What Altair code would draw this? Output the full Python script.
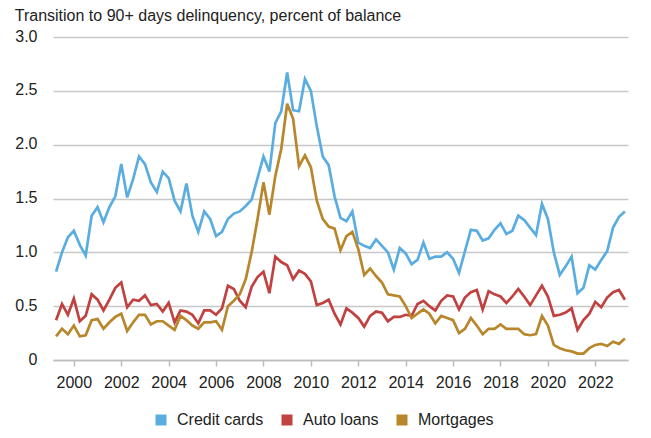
import altair as alt
import pandas as pd

start_year = 1999.25
series_names = ["Credit cards", "Auto loans", "Mortgages"]
series_colors = ["#5AADE0", "#C0413F", "#B8862B"]

credit_cards = [0.82, 1.00, 1.14, 1.20, 1.07, 0.97, 1.34, 1.42, 1.28, 1.42, 1.52, 1.82, 1.51, 1.68, 1.89, 1.82,
                1.65, 1.56, 1.75, 1.69, 1.48, 1.38, 1.64, 1.34, 1.19, 1.38, 1.31, 1.15, 1.19, 1.31, 1.36, 1.38,
                1.43, 1.49, 1.69, 1.89, 1.75, 2.20, 2.31, 2.67, 2.32, 2.31, 2.61, 2.50, 2.17, 1.89, 1.81, 1.52,
                1.32, 1.29, 1.38, 1.09, 1.06, 1.04, 1.12, 1.06, 1.00, 0.84, 1.04, 0.99, 0.89, 0.93, 1.09, 0.94,
                0.96, 0.96, 1.00, 0.94, 0.81, 1.01, 1.21, 1.20, 1.11, 1.13, 1.21, 1.27, 1.17, 1.20, 1.34, 1.30,
                1.23, 1.16, 1.45, 1.31, 1.00, 0.79, 0.87, 0.96, 0.62, 0.67, 0.88, 0.84, 0.93, 1.01, 1.23, 1.33, 1.38]

auto_loans = [0.37, 0.52, 0.42, 0.57, 0.36, 0.41, 0.61, 0.56, 0.46, 0.56, 0.67, 0.72, 0.49, 0.56, 0.55, 0.60,
              0.51, 0.52, 0.45, 0.53, 0.35, 0.46, 0.45, 0.42, 0.34, 0.46, 0.46, 0.42, 0.48, 0.69, 0.66, 0.55,
              0.49, 0.68, 0.77, 0.82, 0.62, 0.96, 0.91, 0.88, 0.75, 0.83, 0.80, 0.73, 0.51, 0.53, 0.56, 0.43,
              0.33, 0.48, 0.44, 0.39, 0.31, 0.41, 0.45, 0.44, 0.36, 0.40, 0.40, 0.42, 0.41, 0.52, 0.55, 0.50,
              0.46, 0.55, 0.60, 0.59, 0.47, 0.58, 0.63, 0.65, 0.47, 0.64, 0.61, 0.59, 0.53, 0.59, 0.66, 0.59,
              0.51, 0.60, 0.69, 0.59, 0.41, 0.42, 0.44, 0.48, 0.28, 0.37, 0.43, 0.54, 0.49, 0.58, 0.63, 0.65, 0.56]

mortgages = [0.22, 0.29, 0.24, 0.32, 0.22, 0.23, 0.37, 0.38, 0.29, 0.35, 0.40, 0.43, 0.27, 0.35, 0.42, 0.42,
             0.33, 0.36, 0.36, 0.32, 0.28, 0.41, 0.37, 0.32, 0.29, 0.35, 0.35, 0.36, 0.28, 0.50, 0.55, 0.61,
             0.75, 1.00, 1.31, 1.65, 1.35, 1.71, 1.96, 2.38, 2.24, 1.80, 1.90, 1.79, 1.48, 1.31, 1.24, 1.22,
             1.02, 1.15, 1.19, 1.03, 0.79, 0.85, 0.78, 0.72, 0.61, 0.60, 0.59, 0.50, 0.39, 0.43, 0.47, 0.43,
             0.34, 0.41, 0.39, 0.37, 0.25, 0.29, 0.39, 0.32, 0.24, 0.29, 0.29, 0.33, 0.29, 0.29, 0.29, 0.24,
             0.23, 0.24, 0.41, 0.32, 0.14, 0.11, 0.09, 0.08, 0.06, 0.06, 0.11, 0.14, 0.15, 0.13, 0.17, 0.15, 0.20]

x_ticks = list(range(2000, 2023, 2))
y_ticks = [0, 0.5, 1.0, 1.5, 2.0, 2.5, 3.0]

rows = []
for name, vals in zip(series_names, [credit_cards, auto_loans, mortgages]):
    for i, v in enumerate(vals):
        rows.append({"t": start_year + 0.25 * i, "value": v, "series": name})
df = pd.DataFrame(rows)

FONT = "Liberation Sans"
FS = 16

chart = alt.Chart(df).mark_line(strokeWidth=2.7).encode(
    x=alt.X("t:Q",
            scale=alt.Scale(domain=[1999.12, 2023.38], nice=False, zero=False),
            axis=alt.Axis(values=x_ticks, format="d", title=None, grid=False,
                          domain=True, domainColor="#bdbdbd", domainWidth=1.5,
                          ticks=True, tickColor="#bdbdbd", tickWidth=1.5, tickSize=6,
                          labelPadding=8, labelFontSize=FS, labelFont=FONT,
                          labelColor="#222222")),
    y=alt.Y("value:Q",
            scale=alt.Scale(domain=[0, 3], nice=False),
            axis=alt.Axis(values=y_ticks, title=None, grid=True, gridColor="#c8c8c8",
                          gridWidth=1.5, domain=False, ticks=False, tickSize=0,
                          labelPadding=16, labelFontSize=FS, labelFont=FONT,
                          labelColor="#222222", labelOffset=-1,
                          labelExpr="datum.value == 0 ? '0' : format(datum.value, '.1f')")),
    color=alt.Color("series:N",
                    scale=alt.Scale(domain=series_names, range=series_colors),
                    legend=alt.Legend(title=None, orient="none", direction="horizontal",
                                      legendX=100, legendY=375,
                                      symbolType="square", symbolSize=4,
                                      symbolStrokeWidth=9, labelFontSize=FS,
                                      labelFont=FONT, labelColor="#222222",
                                      labelOffset=8, columnPadding=4)),
).properties(
    width=575,
    height=323,
    title=alt.TitleParams("Transition to 90+ days delinquency, percent of balance",
                          anchor="start", frame="bounds", fontSize=FS, font=FONT,
                          fontWeight="normal", color="#222222", offset=4),
    autosize=alt.AutoSizeParams(type="none"),
    padding={"left": 45, "top": 29, "right": 15, "bottom": 70},
).configure_view(stroke=None)

chart.save("out.html", embed_options={"renderer": "svg", "actions": False})
